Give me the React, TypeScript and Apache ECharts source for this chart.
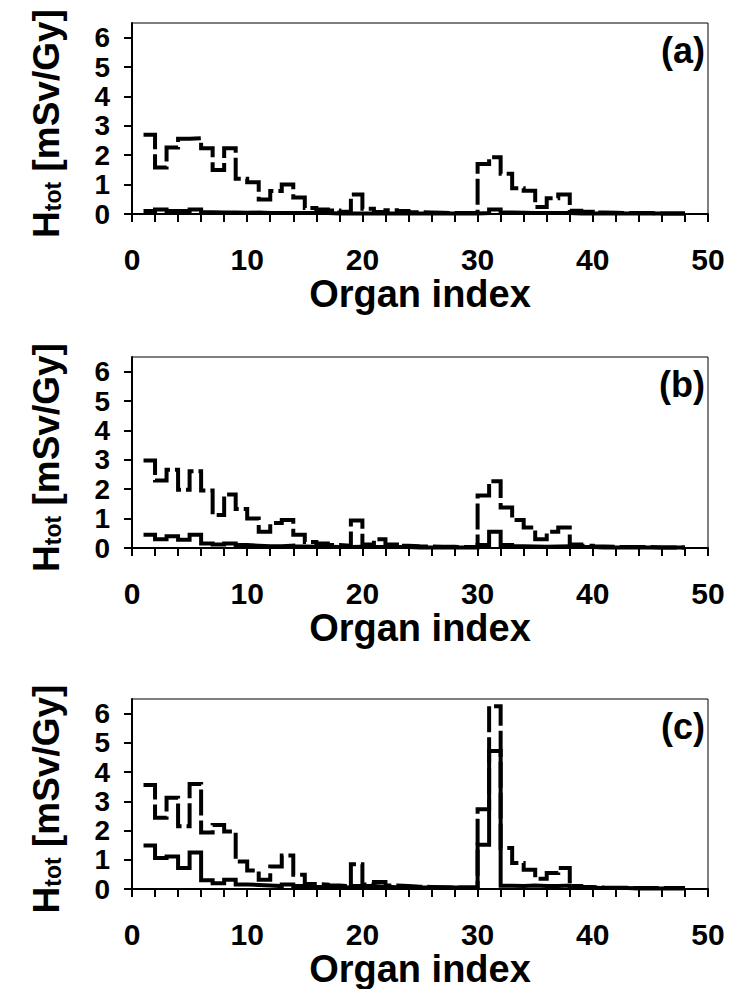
import React, { useEffect, useRef } from 'react';
import * as echarts from 'echarts';

// Organ index (x positions of the step points)
const organIndex = [
  1, 2, 3, 4, 5, 6, 7, 8, 9, 10, 11, 12, 13, 14, 15, 16, 17, 18, 19, 20, 21, 22, 23, 24,
  25, 26, 27, 28, 29, 30, 31, 32, 33, 34, 35, 36, 37, 38, 39, 40, 41, 42, 43, 44, 45, 46, 47, 48,
];

// Panel (a)
const aDashed = [
  2.70, 1.58, 2.26, 2.56, 2.58, 2.24, 1.50, 2.24, 1.20, 1.08, 0.49, 0.78, 1.00, 0.56, 0.20, 0.15,
  0.12, 0.08, 0.66, 0.18, 0.07, 0.13, 0.10, 0.06, 0.05, 0.04, 0.03, 0.03, 0.04, 1.70, 1.93, 1.37,
  0.88, 0.79, 0.24, 0.54, 0.66, 0.11, 0.08, 0.05, 0.04, 0.03, 0.03, 0.03, 0.02, 0.02, 0.02, 0.02,
];
const aSolid = [
  0.10, 0.15, 0.10, 0.10, 0.15, 0.06, 0.05, 0.05, 0.04, 0.05, 0.03, 0.03, 0.03, 0.03, 0.03, 0.03,
  0.02, 0.02, 0.02, 0.02, 0.02, 0.02, 0.02, 0.02, 0.02, 0.02, 0.02, 0.02, 0.02, 0.03, 0.15, 0.05,
  0.04, 0.03, 0.03, 0.03, 0.03, 0.02, 0.02, 0.02, 0.02, 0.02, 0.02, 0.02, 0.02, 0.02, 0.02, 0.02,
];

// Panel (b)
const bDashed = [
  2.98, 2.30, 2.66, 1.98, 2.61, 1.96, 1.12, 1.82, 1.33, 1.00, 0.55, 0.85, 0.95, 0.45, 0.20, 0.15,
  0.10, 0.08, 0.94, 0.12, 0.30, 0.12, 0.08, 0.06, 0.05, 0.04, 0.04, 0.03, 0.04, 1.79, 2.27, 1.38,
  0.95, 0.70, 0.30, 0.55, 0.70, 0.12, 0.08, 0.05, 0.04, 0.03, 0.03, 0.03, 0.02, 0.02, 0.02, 0.02,
];
const bSolid = [
  0.45, 0.30, 0.40, 0.28, 0.45, 0.15, 0.12, 0.15, 0.10, 0.08, 0.06, 0.06, 0.08, 0.05, 0.04, 0.04,
  0.03, 0.03, 0.04, 0.03, 0.03, 0.03, 0.03, 0.02, 0.02, 0.02, 0.02, 0.02, 0.02, 0.10, 0.55, 0.10,
  0.06, 0.05, 0.04, 0.05, 0.06, 0.03, 0.03, 0.02, 0.02, 0.02, 0.02, 0.02, 0.02, 0.02, 0.02, 0.02,
];

// Panel (c)
const cDashed = [
  3.56, 2.44, 3.12, 2.15, 3.59, 1.93, 2.19, 1.97, 0.94, 0.63, 0.32, 0.77, 1.15, 0.49, 0.17, 0.15,
  0.12, 0.10, 0.85, 0.15, 0.24, 0.12, 0.10, 0.08, 0.07, 0.06, 0.05, 0.05, 0.05, 2.73, 6.25, 1.40,
  0.89, 0.66, 0.35, 0.55, 0.72, 0.10, 0.07, 0.05, 0.04, 0.04, 0.03, 0.03, 0.03, 0.03, 0.03, 0.03,
];
const cSolid = [
  1.49, 1.06, 1.11, 0.72, 1.25, 0.30, 0.20, 0.32, 0.15, 0.14, 0.12, 0.10, 0.15, 0.10, 0.08, 0.07,
  0.06, 0.05, 0.10, 0.10, 0.08, 0.06, 0.05, 0.05, 0.05, 0.05, 0.05, 0.05, 0.05, 1.51, 4.72, 0.11,
  0.10, 0.12, 0.10, 0.10, 0.12, 0.05, 0.04, 0.03, 0.03, 0.03, 0.02, 0.02, 0.02, 0.02, 0.02, 0.02,
];

const yTickValues = [0, 1, 2, 3, 4, 5, 6];
const xTickValues = [0, 2, 4, 6, 8, 10, 12, 14, 16, 18, 20, 22, 24, 26, 28, 30, 32, 34, 36, 38, 40, 42, 44, 46, 48, 50];
const xLabelValues = [0, 10, 20, 30, 40, 50];
const panelLabels = ['(a)', '(b)', '(c)'];
const xTitle = 'Organ index';

const panelDashed = [aDashed, bDashed, cDashed];
const panelSolid = [aSolid, bSolid, cSolid];

const FONT = '"Liberation Sans", Arial, Helvetica, sans-serif';
const GRID_LEFT = 132;
const GRID_WIDTH = 576;
const layout = [
  { top: 23, height: 191 },
  { top: 357, height: 191 },
  { top: 699, height: 190 },
];

function buildOption(): any {
  const grid: any[] = [];
  const xAxis: any[] = [];
  const yAxis: any[] = [];
  const series: any[] = [];
  const graphic: any[] = [];

  layout.forEach((p, i) => {
    grid.push({
      left: GRID_LEFT,
      top: p.top,
      width: GRID_WIDTH,
      height: p.height,
      show: true,
      borderColor: '#000',
      borderWidth: 1,
      backgroundColor: 'transparent',
    });
    xAxis.push({
      type: 'value',
      gridIndex: i,
      min: 0,
      max: 50,
      axisLine: { show: true, onZero: false, lineStyle: { color: '#000', width: 2 } },
      axisTick: {
        show: true,
        inside: false,
        length: 8,
        customValues: xTickValues,
        lineStyle: { color: '#000', width: 2 },
      },
      axisLabel: {
        show: true,
        customValues: xLabelValues,
        showMinLabel: true,
        showMaxLabel: true,
        fontFamily: FONT,
        fontSize: 30,
        fontWeight: 'bold',
        color: '#000',
        margin: 30,
      },
      splitLine: { show: false },
      name: xTitle,
      nameLocation: 'middle',
      nameGap: 54,
      nameTextStyle: { fontFamily: FONT, fontSize: 38, fontWeight: 'bold', color: '#000' },
    });
    yAxis.push({
      type: 'value',
      gridIndex: i,
      min: 0,
      max: 6.5,
      axisLine: { show: true, onZero: false, lineStyle: { color: '#000', width: 2 } },
      axisTick: {
        show: true,
        inside: false,
        length: 8,
        customValues: yTickValues,
        lineStyle: { color: '#000', width: 2 },
      },
      axisLabel: {
        show: true,
        customValues: yTickValues,
        showMinLabel: true,
        showMaxLabel: true,
        hideOverlap: false,
        fontFamily: FONT,
        fontSize: 28,
        lineHeight: 26,
        fontWeight: 'bold',
        color: '#000',
        margin: 22,
      },
      splitLine: { show: false },
    });
    series.push({
      type: 'line',
      xAxisIndex: i,
      yAxisIndex: i,
      step: 'end',
      symbol: 'none',
      showSymbol: false,
      data: organIndex.map((x, k) => [x, panelDashed[i][k]]),
      lineStyle: { color: '#000', width: 4, type: [26, 5], cap: 'butt', join: 'miter' },
    });
    series.push({
      type: 'line',
      xAxisIndex: i,
      yAxisIndex: i,
      step: 'end',
      symbol: 'none',
      showSymbol: false,
      data: organIndex.map((x, k) => [x, panelSolid[i][k]]),
      lineStyle: { color: '#000', width: 4, type: 'solid', cap: 'butt', join: 'miter' },
    });
    graphic.push({
      type: 'text',
      right: 750 - GRID_LEFT - GRID_WIDTH + 3,
      top: p.top + 9,
      style: {
        text: panelLabels[i],
        fontFamily: FONT,
        fontSize: 36,
        fontWeight: 'bold',
        fill: '#000',
      },
    });
    graphic.push({
      type: 'text',
      x: 46,
      y: p.top + p.height / 2 + 5,
      rotation: Math.PI / 2,
      style: {
        text: '{h|H}{s|tot}{h| [mSv/Gy]}',
        align: 'center',
        verticalAlign: 'middle',
        fill: '#000',
        rich: {
          h: { fontFamily: FONT, fontSize: 37, fontWeight: 'bold', lineHeight: 37, fill: '#000' },
          s: {
            fontFamily: FONT,
            fontSize: 23,
            fontWeight: 'bold',
            lineHeight: 12,
            verticalAlign: 'bottom',
            fill: '#000',
          },
        },
      },
    });
  });

  return {
    animation: false,
    backgroundColor: '#fff',
    grid,
    xAxis,
    yAxis,
    series,
    graphic,
  };
}

export default function App() {
  const ref = useRef<HTMLDivElement>(null);
  useEffect(() => {
    if (!ref.current) return;
    const chart = echarts.init(ref.current, undefined, { renderer: 'svg' });
    chart.setOption(buildOption());
    return () => chart.dispose();
  }, []);
  return (
    <div
      ref={ref}
      style={{ position: 'absolute', left: 0, top: 0, width: 750, height: 989, background: '#fff' }}
    />
  );
}
